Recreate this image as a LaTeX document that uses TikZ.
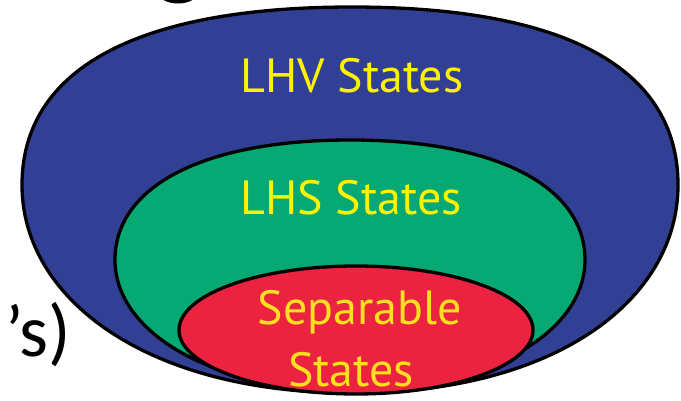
\documentclass[tikz,border=0pt]{standalone}
\usepackage{fontspec}
\setmainfont{PT Sans}
\newfontfamily\calfont{Carlito}
\definecolor{lhvblue}{RGB}{49,64,148}
\definecolor{lhsgreen}{RGB}{6,168,116}
\definecolor{sepred}{RGB}{236,35,64}
\definecolor{stateyellow}{RGB}{255,242,0}
\definecolor{sepyellow}{RGB}{250,224,30}
\begin{document}
\begin{tikzpicture}[x=1pt,y=-1pt,
  region/.style={draw=black,line width=3.3pt},
  statelabel/.style={text=stateyellow,anchor=base,inner sep=0pt,font=\fontsize{48}{48}\selectfont}]
\useasboundingbox (0,0) rectangle (681,400);

% nested state sets
\path[region,fill=lhvblue] (352,7) .. controls (567,7) and (678,69) .. (678,185)
  .. controls (678,299) and (557,393) .. (352,393)
  .. controls (147,393) and (22,299) .. (22,185)
  .. controls (22,69) and (137,7) .. (352,7) -- cycle;
\path[region,fill=lhsgreen] (350,140) .. controls (496,140) and (585,186) .. (585,260)
  .. controls (585,331) and (491,390) .. (350,390)
  .. controls (209,390) and (115,331) .. (115,260)
  .. controls (115,186) and (204,140) .. (350,140) -- cycle;
\path[region,fill=sepred] (356,330) ellipse [x radius=177, y radius=64];

\node (lhv) [statelabel] at (352,92) {LHV States};
\node (lhs) [statelabel] at (351,214) {LHS States};
\node (sep) [statelabel,text=sepyellow] at (360,324) {Separable};
\node (sepstates) [statelabel,text=sepyellow] at (351,386) {States};

% cut-off slide text
\node (rest) [anchor=base east,inner sep=0pt,font=\calfont\fontsize{74}{74}\selectfont] at (71,356) {’s)};
\fill (178,-8) ellipse [x radius=20, y radius=11.5];
\end{tikzpicture}
\end{document}
